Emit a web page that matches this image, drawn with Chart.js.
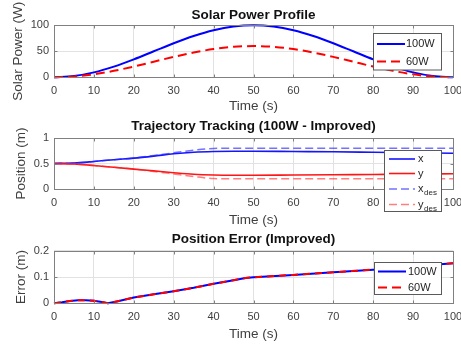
<!DOCTYPE html>
<html>
<head>
<meta charset="utf-8">
<script src="https://cdn.jsdelivr.net/npm/chart.js@4.4.1/dist/chart.umd.min.js"></script>
<style>
  body { margin: 0; background: #fff; }
  #wrap { position: relative; width: 461px; height: 345px; overflow: hidden; }
  #wrap canvas { position: absolute; left: 0; }
</style>
</head>
<body>
<div id="wrap">
  <canvas id="solarChart" width="461" height="115" style="top:0"></canvas>
  <canvas id="trackChart" width="461" height="115" style="top:115px"></canvas>
  <canvas id="errorChart" width="461" height="115" style="top:230px"></canvas>
</div>
<script>
// eixo de tempo comum
const X_TICKS = [0, 10, 20, 30, 40, 50, 60, 70, 80, 90, 100];
const X_TICK_LABELS = ["0", "10", "20", "30", "40", "50", "60", "70", "80", "90", "100"];

// painel 1 - potencia solar
const SOLAR_T = [0, 5, 10, 15, 20, 25, 30, 35, 40, 45, 50, 55, 60, 65, 70, 75, 80, 85, 90, 95, 100];
const POWER_100W = [0, 2.4, 9.5, 20.6, 34.5, 50, 65.5, 79.4, 90.5, 97.6, 100, 97.6, 90.5, 79.4, 65.5, 50, 34.5, 20.6, 9.5, 2.4, 0];
const POWER_60W = [0, 1.4, 5.7, 12.4, 20.7, 30, 39.3, 47.6, 54.3, 58.6, 60, 58.6, 54.3, 47.6, 39.3, 30, 20.7, 12.4, 5.7, 1.4, 0];
const SOLAR_Y_TICKS = [0, 50, 100];
const SOLAR_Y_LABELS = ["0", "50", "100"];

// painel 2 - rastreamento
const TRACK_T = [0, 5, 10, 15, 20, 25, 30, 35, 40, 45, 50, 60, 70, 80, 90, 100];
const POS_X = [0.5, 0.51, 0.54, 0.575, 0.605, 0.645, 0.69, 0.72, 0.735, 0.74, 0.74, 0.735, 0.73, 0.72, 0.71, 0.70];
const POS_Y = [0.5, 0.49, 0.46, 0.425, 0.39, 0.355, 0.32, 0.29, 0.275, 0.27, 0.27, 0.275, 0.28, 0.285, 0.29, 0.30];
const POS_X_DES = [0.5, 0.51, 0.54, 0.575, 0.61, 0.655, 0.71, 0.76, 0.795, 0.8, 0.8, 0.8, 0.8, 0.8, 0.8, 0.8];
const POS_Y_DES = [0.5, 0.49, 0.46, 0.425, 0.39, 0.345, 0.295, 0.245, 0.205, 0.2, 0.2, 0.2, 0.2, 0.2, 0.2, 0.2];
const TRACK_Y_TICKS = [0, 0.5, 1];
const TRACK_Y_LABELS = ["0", "0.5", "1"];

// painel 3 - erro de posicao
const ERR_T = [0, 2, 4, 6, 8, 10, 12, 13.5, 16, 20, 25, 30, 35, 40, 45, 48, 50, 60, 70, 80, 90, 100];
const ERR_100W = [0, 0.004, 0.009, 0.012, 0.012, 0.010, 0.005, 0, 0.008, 0.022, 0.034, 0.046, 0.059, 0.074, 0.088, 0.096, 0.099, 0.108, 0.118, 0.128, 0.140, 0.152];
const ERR_60W = [0, 0.004, 0.009, 0.012, 0.012, 0.010, 0.005, 0, 0.008, 0.022, 0.034, 0.046, 0.059, 0.074, 0.088, 0.096, 0.099, 0.108, 0.118, 0.128, 0.140, 0.152];
const ERR_Y_TICKS = [0, 0.1, 0.2];
const ERR_Y_LABELS = ["0", "0.1", "0.2"];

const FONT = "'Liberation Sans', Arial, sans-serif";
const TEXT = "#404040";
const GRID = "#e2e2e2";
const BOX = "#808080";

function pontos(ts, vs) {
  return ts.map((t, i) => ({ x: t, y: vs[i] }));
}

// ordem: a serie declarada depois fica por cima (como no matlab)
function serie(label, ts, vs, cor, largura, tracejado, suave, ordem) {
  return {
    label,
    data: pontos(ts, vs),
    borderColor: cor,
    borderWidth: largura,
    borderDash: tracejado || [],
    pointRadius: 0,
    fill: false,
    clip: false,
    tension: 0,
    order: ordem,
    cubicInterpolationMode: suave ? "monotone" : "default",
  };
}

// caixa + marcas internas estilo matlab + legenda
const moldura = {
  id: "moldura",
  afterDraw(chart, args, opts) {
    const { ctx, chartArea: a, scales: { x, y } } = chart;
    const l = Math.round(a.left) + 0.5, r = Math.round(a.right) + 0.5;
    const t = Math.round(a.top) + 0.5, b = Math.round(a.bottom) + 0.5;
    ctx.save();
    ctx.strokeStyle = BOX;
    ctx.lineWidth = 1;
    ctx.setLineDash([]);
    ctx.beginPath();
    x.ticks.forEach((tk) => {
      const px = Math.round(x.getPixelForValue(tk.value)) + 0.5;
      ctx.moveTo(px, b); ctx.lineTo(px, b - 3);
      ctx.moveTo(px, t); ctx.lineTo(px, t + 3);
    });
    y.ticks.forEach((tk) => {
      const py = Math.round(y.getPixelForValue(tk.value)) + 0.5;
      ctx.moveTo(l, py); ctx.lineTo(l + 3, py);
      ctx.moveTo(r, py); ctx.lineTo(r - 3, py);
    });
    ctx.stroke();
    ctx.strokeRect(l, t, r - l, b - t);

    const lg = opts.legend;
    if (lg) {
      ctx.fillStyle = "#fff";
      ctx.fillRect(lg.x, lg.y, lg.w, lg.h);
      ctx.strokeStyle = "#5a5a5a";
      ctx.strokeRect(lg.x, lg.y, lg.w, lg.h);
      lg.items.forEach((it) => {
        ctx.beginPath();
        ctx.strokeStyle = it.color;
        ctx.lineWidth = it.width;
        ctx.setLineDash(it.dash || []);
        ctx.moveTo(lg.x0, it.y);
        ctx.lineTo(lg.x1, it.y);
        ctx.stroke();
        ctx.setLineDash([]);
        ctx.fillStyle = "#262626";
        ctx.textBaseline = "middle";
        ctx.textAlign = "left";
        ctx.font = "11px " + FONT;
        ctx.fillText(it.text, lg.tx, it.y);
        if (it.sub) {
          const w = ctx.measureText(it.text).width;
          ctx.font = "8px " + FONT;
          ctx.fillText(it.sub, lg.tx + w + 0.5, it.y + 4);
        }
      });
    }
    ctx.restore();
  },
};

function criarGrafico(id, cfg) {
  const ctx = document.getElementById(id).getContext("2d");
  return new Chart(ctx, {
    type: "line",
    data: { datasets: cfg.datasets },
    options: {
      responsive: false,
      animation: false,
      devicePixelRatio: 1,
      layout: { padding: { left: 0, right: 8, top: 0, bottom: 0 } },
      plugins: {
        legend: { display: false },
        tooltip: { enabled: false },
        title: {
          display: true,
          fullSize: false,
          text: cfg.title,
          color: "#111",
          font: { family: FONT, size: 13.5, weight: "bold", lineHeight: 1.2 },
          padding: cfg.titlePad,
        },
        moldura: { legend: cfg.legend },
      },
      scales: {
        x: {
          type: "linear",
          min: 0,
          max: 100,
          afterBuildTicks: (s) => { s.ticks = X_TICKS.map((v) => ({ value: v })); },
          afterFit: (s) => { s.height = cfg.xHeight; s.paddingLeft = 0; s.paddingRight = 0; },
          ticks: {
            autoSkip: false,
            maxRotation: 0,
            padding: 7,
            color: TEXT,
            font: { family: FONT, size: 11 },
            callback: (v, i) => X_TICK_LABELS[i],
          },
          grid: { color: GRID, drawTicks: false },
          border: { display: false },
          title: {
            display: true,
            text: "Time (s)",
            color: TEXT,
            font: { family: FONT, size: 13.5, lineHeight: 1 },
            padding: { top: 0, bottom: cfg.xTitlePad },
          },
        },
        y: {
          min: cfg.yMin,
          max: cfg.yMax,
          afterBuildTicks: (s) => { s.ticks = cfg.yTicks.map((v) => ({ value: v })); },
          afterFit: (s) => { s.width = 54; s.paddingTop = 0; s.paddingBottom = 0; },
          ticks: {
            padding: 5,
            color: TEXT,
            font: { family: FONT, size: 11 },
            callback: (v, i) => cfg.yLabels[i],
          },
          grid: { color: GRID, drawTicks: false },
          border: { display: false },
          title: {
            display: true,
            text: cfg.yTitle,
            color: TEXT,
            font: { family: FONT, size: 13.5, lineHeight: 1 },
            padding: { top: cfg.yTitlePad, bottom: 0 },
          },
        },
      },
    },
    plugins: [moldura],
  });
}

criarGrafico("solarChart", {
  title: "Solar Power Profile",
  titlePad: { top: 6.9, bottom: 2.2 },
  xHeight: 37.7,
  xTitlePad: 1.6,
  yMin: 0, yMax: 100,
  yTicks: SOLAR_Y_TICKS, yLabels: SOLAR_Y_LABELS,
  yTitle: "Solar Power (W)",
  yTitlePad: 12,
  datasets: [
    serie("100W", SOLAR_T, POWER_100W, "#0000ff", 2, null, true, 1),
    serie("60W", SOLAR_T, POWER_60W, "#ff0000", 2, [9, 5], true, 0),
  ],
  legend: {
    x: 373.5, y: 33.5, w: 68, h: 36.5, x0: 377, x1: 405, tx: 406,
    items: [
      { text: "100W", color: "#0000ff", width: 2, y: 44 },
      { text: "60W", color: "#ff0000", width: 2, dash: [9, 5], y: 61.5 },
    ],
  },
});

criarGrafico("trackChart", {
  title: "Trajectory Tracking (100W - Improved)",
  titlePad: { top: 3.4, bottom: 3.4 },
  xHeight: 41,
  xTitlePad: 2.6,
  yMin: 0, yMax: 1,
  yTicks: TRACK_Y_TICKS, yLabels: TRACK_Y_LABELS,
  yTitle: "Position (m)",
  yTitlePad: 15,
  datasets: [
    serie("x", TRACK_T, POS_X, "#1515ff", 1.6, null, true, 3),
    serie("y", TRACK_T, POS_Y, "#ff1515", 1.6, null, true, 2),
    serie("x_des", TRACK_T, POS_X_DES, "rgba(40,40,255,0.65)", 1.5, [8, 4], true, 1),
    serie("y_des", TRACK_T, POS_Y_DES, "rgba(255,40,40,0.6)", 1.5, [8, 4], true, 0),
  ],
  legend: {
    x: 384.5, y: 35.5, w: 57, h: 61, x0: 389, x1: 415, tx: 418,
    items: [
      { text: "x", color: "#1515ff", width: 1.6, y: 44 },
      { text: "y", color: "#ff1515", width: 1.6, y: 58.5 },
      { text: "x", sub: "des", color: "rgba(40,40,255,0.65)", width: 1.5, dash: [8, 4], y: 74 },
      { text: "y", sub: "des", color: "rgba(255,40,40,0.6)", width: 1.5, dash: [8, 4], y: 89.5 },
    ],
  },
});

criarGrafico("errorChart", {
  title: "Position Error (Improved)",
  titlePad: { top: 0.9, bottom: 3.6 },
  xHeight: 41.7,
  xTitlePad: 4,
  yMin: 0, yMax: 0.2,
  yTicks: ERR_Y_TICKS, yLabels: ERR_Y_LABELS,
  yTitle: "Error (m)",
  yTitlePad: 15,
  datasets: [
    serie("100W", ERR_T, ERR_100W, "#0000ff", 2, null, false, 1),
    serie("60W", ERR_T, ERR_60W, "#ff0000", 2, [7, 5], false, 0),
  ],
  legend: {
    x: 374.5, y: 32.5, w: 67, h: 32, x0: 378, x1: 406, tx: 408,
    items: [
      { text: "100W", color: "#0000ff", width: 2, y: 41.5 },
      { text: "60W", color: "#ff0000", width: 2, dash: [9, 5], y: 57.5 },
    ],
  },
});
</script>
</body>
</html>
